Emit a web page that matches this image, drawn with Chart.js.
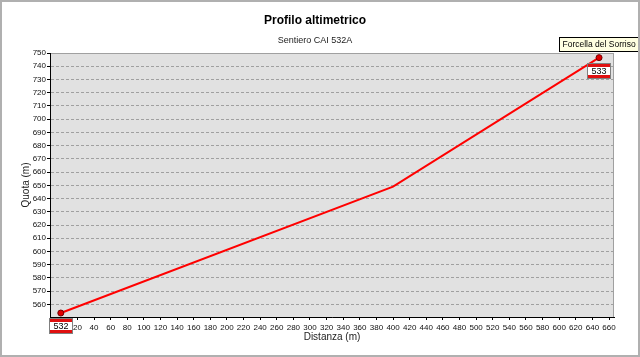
<!DOCTYPE html>
<html>
<head>
<meta charset="utf-8">
<script src="https://cdn.jsdelivr.net/npm/chart.js@4.4.0/dist/chart.umd.min.js"></script>
<style>
  html, body { margin: 0; padding: 0; background: #fff; }
</style>
</head>
<body>
<canvas id="profile" width="640" height="357"></canvas>
<script>
// waypoints along the trail
const distances = [0, 400, 648];
const quotas = [553.5, 649, 746.5];
const markers = ["532", "", "533"];
const names = ["", "", "Forcella del Sorriso"];

const xTicks = [20, 40, 60, 80, 100, 120, 140, 160, 180, 200, 220, 240, 260, 280, 300, 320,
  340, 360, 380, 400, 420, 440, 460, 480, 500, 520, 540, 560, 580, 600, 620, 640, 660];
const yTicks = [560, 570, 580, 590, 600, 610, 620, 630, 640, 650, 660, 670, 680, 690, 700,
  710, 720, 730, 740, 750];

const titleText = "Profilo altimetrico";
const subtitleText = "Sentiero CAI 532A";

const FONT = "Liberation Sans, Arial, sans-serif";
const tickFont = { family: FONT, size: 8 };
const tickColor = "#111";

// plot background, frame, titles and outer border
const decor = {
  id: "decor",
  beforeDraw(chart) {
    const { ctx, chartArea: a } = chart;
    ctx.save();
    ctx.fillStyle = "#e1e1e1";
    ctx.fillRect(a.left, a.top, a.right - a.left, a.bottom - a.top);
    ctx.strokeStyle = "#a0a0a0";
    ctx.lineWidth = 1;
    ctx.strokeRect(a.left + 0.5, a.top + 0.5, a.right - a.left - 1, a.bottom - a.top);
    ctx.restore();
  },
  afterDraw(chart) {
    const { ctx } = chart;
    ctx.save();
    ctx.fillStyle = "#000";
    ctx.textAlign = "center";
    ctx.textBaseline = "middle";
    ctx.font = "bold 12px " + FONT;
    ctx.fillText(titleText, 315, 21);
    ctx.font = "9px " + FONT;
    ctx.fillStyle = "#222";
    ctx.fillText(subtitleText, 315, 41);
    ctx.strokeStyle = "#b0b0b0";
    ctx.lineWidth = 2;
    ctx.strokeRect(1, 1, 638, 355);
    ctx.restore();
  }
};

// CAI trail markers and waypoint names
const waypointLabels = {
  id: "waypointLabels",
  afterDatasetsDraw(chart) {
    const { ctx } = chart;
    const pts = chart.getDatasetMeta(0).data;
    ctx.save();
    ctx.textAlign = "center";
    ctx.textBaseline = "middle";
    pts.forEach((p, i) => {
      if (markers[i]) {
        const w = 22, h = 14;
        const x = Math.round(p.x) - w / 2, y = Math.round(p.y) + 6;
        ctx.fillStyle = "#ffffff";
        ctx.fillRect(x, y, w, h);
        ctx.fillStyle = "#e01010";
        ctx.fillRect(x, y, w, 3);
        ctx.fillRect(x, y + h - 3, w, 3);
        ctx.strokeStyle = "#808080";
        ctx.lineWidth = 1;
        ctx.strokeRect(x - 0.5, y - 0.5, w + 1, h + 1);
        ctx.font = "9px " + FONT;
        ctx.fillStyle = "#000";
        ctx.fillText(markers[i], x + w / 2, y + h / 2 + 0.5);
      }
      if (names[i]) {
        ctx.font = "8.5px " + FONT;
        const tw = ctx.measureText(names[i]).width + 6, th = 14;
        const x = Math.round(p.x - tw / 2), y = Math.round(p.y) - 7 - th;
        ctx.fillStyle = "#ffffe1";
        ctx.fillRect(x, y, tw, th);
        ctx.strokeStyle = "#000";
        ctx.strokeRect(x + 0.5, y + 0.5, tw, th);
        ctx.fillStyle = "#000";
        ctx.fillText(names[i], x + tw / 2 + 0.5, y + th / 2 + 1);
      }
    });
    ctx.restore();
  }
};

new Chart(document.getElementById("profile"), {
  type: "line",
  data: {
    datasets: [{
      data: distances.map((x, i) => ({ x, y: quotas[i] })),
      borderColor: "#ff0000",
      borderWidth: 2,
      tension: 0,
      pointRadius: markers.map(m => (m ? 3 : 0)),
      pointBackgroundColor: "#e00000",
      pointBorderColor: "#700000",
      pointBorderWidth: 1
    }]
  },
  options: {
    responsive: false,
    animation: false,
    layout: { padding: { top: 53, right: 26, left: 0, bottom: 0 } },
    plugins: { legend: { display: false }, tooltip: { enabled: false } },
    scales: {
      x: {
        type: "linear",
        min: -13,
        max: 666,
        afterBuildTicks: (s) => { s.ticks = xTicks.map(v => ({ value: v })); },
        afterFit: (s) => { s.height = 40; },
        ticks: { font: tickFont, color: tickColor, padding: 3, maxRotation: 0, autoSkip: false },
        grid: { drawOnChartArea: false, tickLength: 3, tickColor: "#000" },
        border: { color: "#000", width: 1 },
        title: { display: true, text: "Distanza (m)", color: "#222",
          font: { family: FONT, size: 10 }, padding: { top: 0, bottom: 14 } }
      },
      y: {
        min: 550.5,
        max: 750,
        afterBuildTicks: (s) => { s.ticks = yTicks.map(v => ({ value: v })); },
        afterFit: (s) => { s.width = 50; },
        ticks: { font: tickFont, color: tickColor, padding: 1, autoSkip: false },
        grid: { color: "#a0a0a0", tickLength: 3, tickColor: "#000", tickBorderDash: [] },
        border: { color: "#000", width: 1, dash: [3, 2] },
        title: { display: true, text: "Quota (m)", color: "#222",
          font: { family: FONT, size: 10 }, padding: { top: 20, bottom: 0 } }
      }
    }
  },
  plugins: [decor, waypointLabels]
});
</script>
</body>
</html>
